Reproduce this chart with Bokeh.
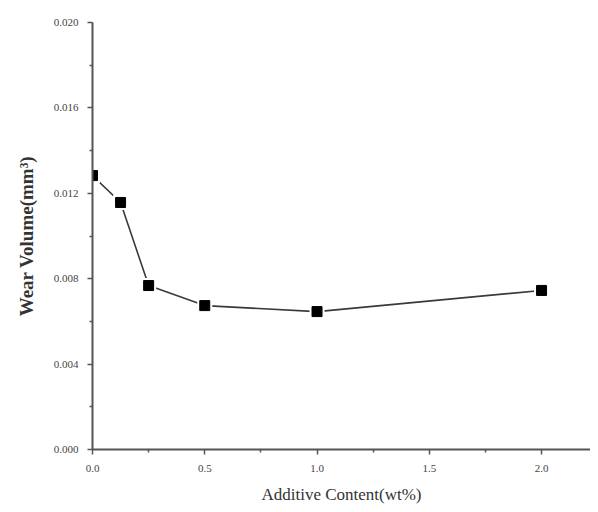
from bokeh.plotting import figure
from bokeh.models import ColumnDataSource, FixedTicker, NumeralTickFormatter, Range1d
from bokeh.embed import file_html
from bokeh.resources import INLINE

# Data
additive_content = [0.0, 0.125, 0.25, 0.5, 1.0, 2.0]
wear_volume = [0.01283, 0.01157, 0.00768, 0.00674, 0.00646, 0.00745]

x_ticks = [0.0, 0.5, 1.0, 1.5, 2.0]
x_minor = [0.25, 0.75, 1.25, 1.75, 2.25]
y_ticks = [0.000, 0.004, 0.008, 0.012, 0.016, 0.020]
y_minor = [0.002, 0.006, 0.010, 0.014, 0.018]

src = ColumnDataSource(data=dict(x=additive_content, y=wear_volume))

p = figure(width=590, height=506, output_backend="svg", toolbar_location=None,
           x_range=Range1d(0, 2.218), y_range=Range1d(0, 0.020),
           min_border_left=92, min_border_right=0, min_border_top=22, min_border_bottom=57)

p.outline_line_color = None
p.xgrid.visible = False
p.ygrid.visible = False
p.background_fill_color = "white"
p.border_fill_color = "white"

p.line("x", "y", source=src, line_color="#3a3a3a", line_width=1.6)
p.scatter("x", "y", source=src, marker="square", size=15, fill_color="white", line_color=None)
p.scatter("x", "y", source=src, marker="square", size=10, fill_color="black", line_color="black")

for ax in (p.xaxis[0], p.yaxis[0]):
    ax.axis_line_color = "#555555"
    ax.axis_line_width = 2
    ax.major_tick_line_color = "#555555"
    ax.minor_tick_line_color = "#555555"
    ax.major_tick_line_width = 1.5
    ax.minor_tick_line_width = 1.5
    ax.major_tick_out = 5
    ax.major_tick_in = 0
    ax.minor_tick_out = 3
    ax.minor_tick_in = 0
    ax.major_label_text_font = "Liberation Serif"
    ax.major_label_text_font_size = "11px"
    ax.major_label_text_color = "#444444"
    ax.axis_label_text_font = "Liberation Serif"
    ax.axis_label_text_color = "#333333"

p.xaxis.ticker = FixedTicker(ticks=x_ticks, minor_ticks=x_minor)
p.yaxis.ticker = FixedTicker(ticks=y_ticks, minor_ticks=y_minor)
p.xaxis.formatter = NumeralTickFormatter(format="0.0")
p.yaxis.formatter = NumeralTickFormatter(format="0.000")

p.xaxis.axis_label = "Additive Content(wt%)"
p.xaxis.axis_label_text_font_size = "17px"
p.xaxis.axis_label_text_font_style = "normal"
p.xaxis.major_label_standoff = 10
p.xaxis.axis_label_standoff = 10

p.yaxis.axis_label = "Wear Volume(mm³)"
p.yaxis.axis_label_text_font_size = "19px"
p.yaxis.axis_label_text_font_style = "bold"
p.yaxis.major_label_standoff = 9
p.yaxis.axis_label_standoff = 14

open("out.html", "w").write(file_html(p, INLINE))
